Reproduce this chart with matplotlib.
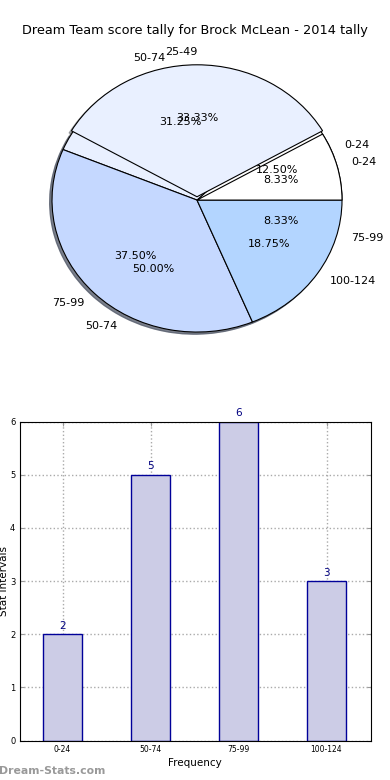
import matplotlib
matplotlib.use('Agg')
import matplotlib.pyplot as plt

# Datos de la tally 2014
rangos_a = ['0-24', '50-74', '75-99', '100-124']
cuentas_a = [2, 5, 6, 3]

rangos_b = ['0-24', '25-49', '50-74', '75-99']
cuentas_b = [1, 4, 6, 1]

colores = ['#ffffff', '#e9f0ff', '#c5d8ff', '#b3d5ff']

titulo = 'Dream Team score tally for Brock McLean - 2014 tally'

fig = plt.figure(figsize=(3.9, 7.8), dpi=100)

# ---- pie (dos tortas superpuestas, como el original)
sombra = {'ox': -0.012, 'oy': -0.012, 'shade': 0.6}
ax1 = fig.add_axes([0.0404, 0.532, 0.9295, 0.423])
pa = ax1.pie(cuentas_a, labels=rangos_a, colors=colores, autopct='%1.2f%%',
             shadow=sombra, wedgeprops={'edgecolor': 'black', 'linewidth': 0.8},
             textprops={'fontsize': 8})
pb = ax1.pie(cuentas_b, labels=rangos_b, colors=colores, autopct='%1.2f%%',
             shadow=sombra, explode=(0.0, 0.025, 0, 0),
             wedgeprops={'edgecolor': 'black', 'linewidth': 0.8},
             textprops={'fontsize': 8})
# las dos ultimas cunas de la segunda torta no se ven en el original
for w in pb[0][2:]:
    w.set_visible(False)
pb[1][1].set_ha('right')
ax1.set_aspect('auto')
ax1.set_xlim(-1.25, 1.25)
ax1.set_ylim(-1.25, 1.25)
fig.text(0.5, 0.961, titulo, ha='center', va='center', fontsize=9.25)

# ---- barras
ax2 = fig.add_axes([0.05, 0.0506, 0.9, 0.409])
pos = range(len(rangos_a))
barras = ax2.bar(pos, cuentas_a, width=0.45, color='#ccccE6',
                 edgecolor='#000099', linewidth=1, zorder=2)
for b, v in zip(barras, cuentas_a):
    ax2.text(b.get_x() + b.get_width() / 2, v + 0.06, str(v), ha='center',
             va='bottom', fontsize=7.5, color='#000080')
ax2.set_xlim(-0.49, 3.5)
ax2.set_ylim(0, 6)
ax2.set_xticks(list(pos))
ax2.set_xticklabels(rangos_a, fontsize=5.5)
ax2.set_yticks(range(7))
ax2.tick_params(axis='y', labelsize=6)
ax2.tick_params(direction='in', length=3, color='#999999', top=True, right=True, pad=3)
ax2.grid(True, linestyle=':', color='#aaaaaa', linewidth=1, zorder=0)
ax2.set_axisbelow(True)
ax2.set_xlabel('Frequency', fontsize=7.5, labelpad=3)
ax2.set_ylabel('Stat Intervals', fontsize=7.5)
ax2.yaxis.set_label_coords(-0.03, 0.5)

fig.text(-0.002, 0.012, 'Dream-Stats.com', fontsize=7.8, color='#999999',
         fontweight='bold', ha='left', va='center')

fig.savefig('out.png', dpi=100)
